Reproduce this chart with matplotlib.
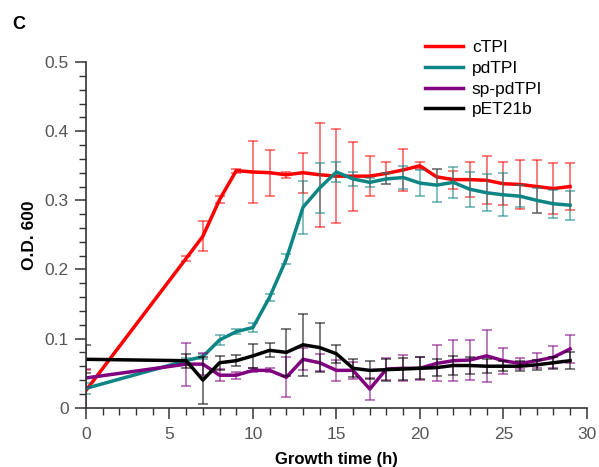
import matplotlib.pyplot as plt
from matplotlib.ticker import MultipleLocator

plt.rcParams['font.family'] = ['Liberation Sans', 'DejaVu Sans']

hours = [0, 6, 7, 8, 9, 10, 11, 12, 13, 14, 15, 16, 17, 18, 19, 20, 21, 22,
         23, 24, 25, 26, 27, 28, 29]

ctpi = [0.025, 0.216, 0.248, 0.301, 0.343, 0.341, 0.340, 0.337, 0.340, 0.337,
        0.335, 0.335, 0.335, 0.339, 0.344, 0.350, 0.334, 0.330, 0.330, 0.329,
        0.324, 0.323, 0.320, 0.317, 0.320]
ctpi_err = [0.03, 0.004, 0.022, 0.005, 0.003, 0.045, 0.033, 0.004, 0.029, 0.075,
            0.068, 0.050, 0.029, 0.016, 0.030, 0.005, 0.012, 0.013, 0.025, 0.035,
            0.031, 0.035, 0.039, 0.037, 0.034]

pdtpi = [0.028, 0.068, 0.074, 0.098, 0.110, 0.116, 0.160, 0.215, 0.290, 0.318,
         0.341, 0.331, 0.326, 0.331, 0.333, 0.325, 0.322, 0.326, 0.316, 0.311,
         0.308, 0.306, 0.300, 0.295, 0.293]
pdtpi_err = [0.008, 0.004, 0.004, 0.007, 0.004, 0.006, 0.005, 0.007, 0.038, 0.036,
             0.015, 0.010, 0.007, 0.008, 0.017, 0.019, 0.024, 0.022, 0.025, 0.027,
             0.031, 0.016, 0.018, 0.020, 0.021]

sp_pdtpi = [0.043, 0.063, 0.063, 0.047, 0.047, 0.054, 0.054, 0.044, 0.070, 0.065,
            0.054, 0.054, 0.027, 0.056, 0.057, 0.057, 0.064, 0.068, 0.069, 0.075,
            0.068, 0.064, 0.068, 0.073, 0.085]
sp_pdtpi_err = [0.013, 0.031, 0.016, 0.009, 0.005, 0.003, 0.003, 0.029, 0.016, 0.012,
                0.015, 0.012, 0.016, 0.016, 0.019, 0.017, 0.026, 0.030, 0.029, 0.038,
                0.019, 0.008, 0.011, 0.016, 0.020]

pet21b = [0.070, 0.068, 0.040, 0.065, 0.068, 0.075, 0.083, 0.080, 0.091, 0.087,
          0.078, 0.057, 0.054, 0.055, 0.056, 0.057, 0.058, 0.061, 0.061, 0.060,
          0.060, 0.060, 0.062, 0.065, 0.068]
pet21b_err = [0.020, 0.010, 0.034, 0.010, 0.008, 0.017, 0.010, 0.034, 0.045, 0.036,
              0.013, 0.013, 0.013, 0.016, 0.016, 0.016, 0.012, 0.014, 0.012, 0.010,
              0.007, 0.007, 0.007, 0.009, 0.012]

series = [
    ("cTPI", ctpi, ctpi_err, "#ff0000"),
    ("pdTPI", pdtpi, pdtpi_err, "#0e8585"),
    ("sp-pdTPI", sp_pdtpi, sp_pdtpi_err, "#800080"),
    ("pET21b", pet21b, pet21b_err, "#000000"),
]

fig = plt.figure(figsize=(5.99, 4.67), dpi=100)
ax = fig.add_axes([0.1436, 0.127, 0.836, 0.740])

for name, vals, errs, col in series:
    ax.errorbar(hours, vals, yerr=errs, fmt='none', ecolor=col, alpha=0.65,
                elinewidth=1.1, capsize=3.5, capthick=1.1)
    ax.plot(hours, vals, color=col, lw=2.5, label=name)

ax.set_xlim(0, 30)
ax.set_ylim(0, 0.5)
ax.xaxis.set_major_locator(MultipleLocator(5))
ax.xaxis.set_minor_locator(MultipleLocator(1))
ax.yaxis.set_major_locator(MultipleLocator(0.1))
ax.yaxis.set_minor_locator(MultipleLocator(0.02))
ax.yaxis.set_major_formatter(plt.FuncFormatter(lambda v, p: "0" if v == 0 else f"{v:.1f}"))

for s in ['top', 'right']:
    ax.spines[s].set_visible(False)
for s in ['left', 'bottom']:
    ax.spines[s].set_color('#333333')
    ax.spines[s].set_linewidth(1.2)

ax.tick_params(which='major', length=8, width=1.1, color='#333333', pad=4.5,
               labelsize=12.5, labelcolor='#555555')
ax.tick_params(which='minor', length=5, width=1.0, color='#333333')
ax.tick_params(axis='x', which='major', pad=6)

ax.set_xlabel("Growth time (h)", fontsize=12, fontweight='bold', labelpad=7)
ax.set_ylabel("O.D. 600", fontsize=12.5, fontweight='bold', labelpad=5)

ax.legend(loc='upper left', bbox_to_anchor=(0.7095, 0.914),
          bbox_transform=fig.transFigure, borderpad=0, borderaxespad=0,
          frameon=False, fontsize=12.5, handlelength=2.2, labelspacing=0.32,
          handletextpad=0.5)

fig.text(0.02, 0.965, "C", fontsize=13, fontweight='bold', va='top')

fig.savefig("out.png", dpi=100)
